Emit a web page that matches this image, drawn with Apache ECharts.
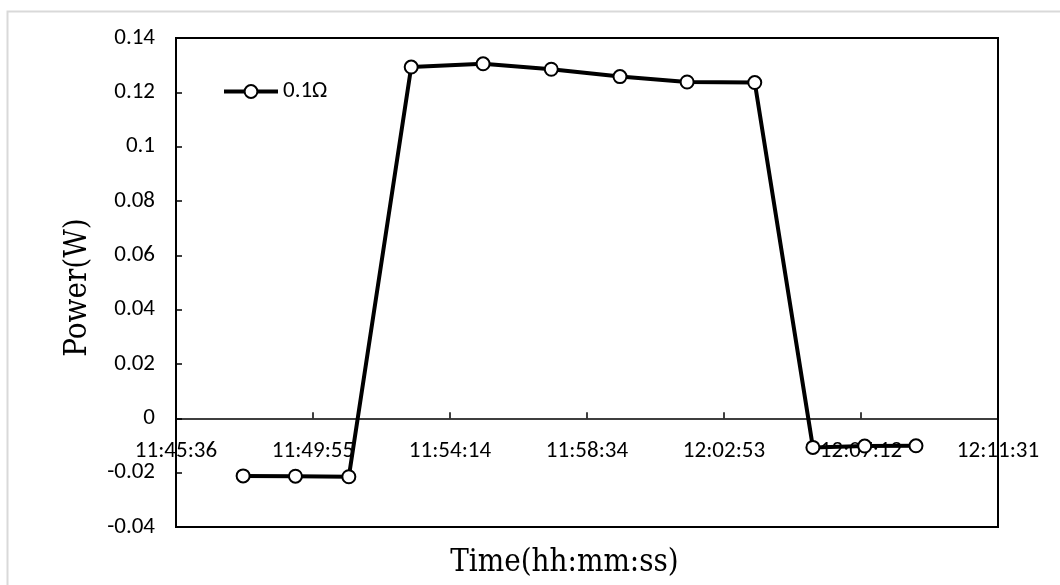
<!DOCTYPE html>
<html>
<head>
<meta charset="utf-8">
<script src="https://cdn.jsdelivr.net/npm/echarts@6/dist/echarts.min.js"></script>
<style>
  html, body { margin: 0; padding: 0; background: #fff; }
  #chart { width: 1060px; height: 585px; }
</style>
</head>
<body>
<div id="chart"></div>
<script>
// ---- data ----
const seriesName = '0.1Ω';
const times = ['11:47:43', '11:49:22', '11:51:03', '11:53:01', '11:55:17', '11:57:26',
               '11:59:36', '12:01:43', '12:03:51', '12:05:41', '12:07:19', '12:08:56'];
const power = [-0.0212, -0.0213, -0.0215, 0.1293, 0.1305, 0.1285,
               0.1258, 0.1238, 0.1236, -0.0107, -0.0102, -0.0101];
const xAxisStart = '11:45:36';
const xAxisEnd = '12:11:31';
const xTickStepSec = 259.2;
const yMin = -0.04, yMax = 0.14, yStep = 0.02;
const xTitle = 'Time(hh:mm:ss)';
const yTitle = 'Power(W)';

function toSec(t) {
  const p = t.split(':').map(Number);
  return p[0] * 3600 + p[1] * 60 + p[2];
}
function fmt(sec) {
  sec = Math.round(sec);
  const h = Math.floor(sec / 3600), m = Math.floor((sec % 3600) / 60), s = sec % 60;
  const pad = n => (n < 10 ? '0' : '') + n;
  return h + ':' + pad(m) + ':' + pad(s);
}
const origin = toSec(xAxisStart);
const xMaxRel = xTickStepSec * 6; // 12:11:31.2
const seriesData = times.map((t, i) => [toSec(t) - origin, power[i]]);

const W = 1060, H = 585;
const gridLeft = 176, gridRight = 62, gridTop = 38, gridBottom = 58;
const gridH = H - gridTop - gridBottom;
// the time axis crosses the value axis at y = 0
const zeroOffset = -((0 - yMin) / (yMax - yMin)) * gridH;

const labelFont = 'Carlito, Lato, "Open Sans", sans-serif';
const titleFont = '"DejaVu Serif Condensed", "Liberation Serif", serif';

const chart = echarts.init(document.getElementById('chart'), null, { renderer: 'canvas' });
chart.setOption({
  backgroundColor: '#fff',
  animation: false,
  graphic: [{
    type: 'rect', left: 5, top: 9, z: -10,
    shape: { width: 1100, height: 620 },
    style: { fill: 'none', stroke: '#d9d9d9', lineWidth: 2 }
  }],
  grid: {
    left: gridLeft, right: gridRight, top: gridTop, bottom: gridBottom,
    outerBoundsMode: 'none', containLabel: false,
    show: true, borderColor: '#000', borderWidth: 2, backgroundColor: 'transparent'
  },
  legend: {
    left: 222, top: 80, padding: 0,
    itemWidth: 54, itemHeight: 16,
    data: [seriesName],
    lineStyle: { width: 4, color: '#000' },
    textStyle: { fontFamily: labelFont, fontSize: 23, color: '#000' }
  },
  xAxis: {
    type: 'value',
    position: 'bottom',
    offset: zeroOffset,
    min: 0, max: xMaxRel, interval: xTickStepSec,
    name: xTitle, nameLocation: 'middle', nameGap: 129,
    nameTextStyle: { fontFamily: titleFont, fontSize: 31, color: '#000', padding: [0, 45, 0, 0] },
    axisLine: { show: true, onZero: false, lineStyle: { color: '#000', width: 1.5 } },
    axisTick: { show: true, inside: true, length: 6, lineStyle: { color: '#000', width: 1.5 } },
    splitLine: { show: false },
    axisLabel: {
      margin: 21, fontFamily: labelFont, fontSize: 23, color: '#000',
      showMinLabel: true, showMaxLabel: true,
      formatter: v => fmt(origin + v)
    }
  },
  yAxis: {
    type: 'value',
    min: yMin, max: yMax, interval: yStep,
    name: yTitle, nameLocation: 'middle', nameGap: 83,
    nameTextStyle: { fontFamily: titleFont, fontSize: 31, color: '#000', padding: [0, 10, 0, 0] },
    axisLine: { show: true, lineStyle: { color: '#000', width: 2 } },
    axisTick: { show: true, inside: true, length: 6, lineStyle: { color: '#000', width: 1.5 } },
    splitLine: { show: false },
    axisLabel: {
      margin: 21, fontFamily: labelFont, fontSize: 23, color: '#000',
      formatter: v => String(+v.toFixed(2))
    }
  },
  series: [{
    name: seriesName,
    type: 'line',
    data: seriesData,
    symbol: 'circle', symbolSize: 13,
    lineStyle: { color: '#000', width: 4 },
    itemStyle: { color: '#fff', borderColor: '#000', borderWidth: 2 }
  }]
});
</script>
</body>
</html>
